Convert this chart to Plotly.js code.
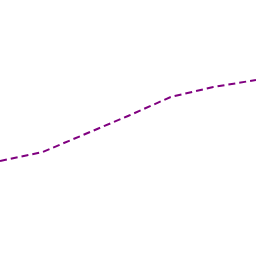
<!DOCTYPE html>
<html><head><meta charset="utf-8">
<script src="https://cdn.plot.ly/plotly-3.0.1.min.js"></script>
<style>html,body{margin:0;padding:0;background:#fff}#c{width:256px;height:256px}</style>
</head><body><div id="c"></div>
<script>
const xs = [0, 1, 2, 3, 4, 5, 6];
const ys = [95, 104, 122, 140, 159, 169, 176];
Plotly.newPlot('c', [{
  x: xs, y: ys, type: 'scatter', mode: 'lines',
  line: {color: '#800080', width: 2, dash: '7px,4px'}
}], {
  width: 256, height: 256,
  margin: {l: 0, r: 0, t: 0, b: 0},
  paper_bgcolor: '#fff', plot_bgcolor: '#fff',
  showlegend: false,
  xaxis: {range: [0, 6], visible: false, showgrid: false, zeroline: false},
  yaxis: {range: [0, 256], visible: false, showgrid: false, zeroline: false}
}, {staticPlot: true});
</script></body></html>
